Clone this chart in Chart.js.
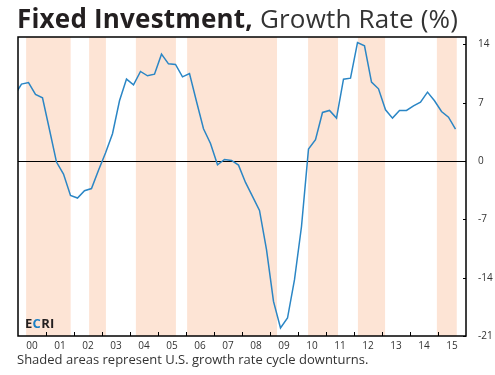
<!DOCTYPE html>
<html><head><meta charset="utf-8">
<script src="https://cdn.jsdelivr.net/npm/chart.js@4.4.0/dist/chart.umd.min.js"></script>
<style>
html,body{margin:0;padding:0;background:#fff;}
#wrap{position:relative;width:495px;height:375px;overflow:hidden;}
canvas{position:absolute;left:0;top:0;}
#title{position:absolute;left:17px;top:2px;font-family:"Open Sans";font-size:26px;letter-spacing:0.2px;line-height:32px;color:#231f20;white-space:nowrap;}
#title b{font-weight:700;}
#title span{font-weight:400;color:#333;}
#note{position:absolute;left:17px;top:351px;font-family:"Open Sans";font-size:13px;line-height:16px;color:#333;white-space:nowrap;}
#logo{position:absolute;left:25px;top:315px;font-family:"Open Sans";font-weight:700;font-size:13px;letter-spacing:0.3px;line-height:17px;color:#231f20;}
</style></head>
<body><div id="wrap"><canvas id="c" width="495" height="375"></canvas>
<div id="title"><b>Fixed Investment,</b> <span>Growth Rate (%)</span></div>
<div id="logo">E<span style="color:#1b7fc4">C</span>RI</div>
<div id="note">Shaded areas represent U.S. growth rate cycle downturns.</div></div>
<script>
const quarters = ["1999Q4",
 "2000Q1","2000Q2","2000Q3","2000Q4","2001Q1","2001Q2","2001Q3","2001Q4",
 "2002Q1","2002Q2","2002Q3","2002Q4","2003Q1","2003Q2","2003Q3","2003Q4",
 "2004Q1","2004Q2","2004Q3","2004Q4","2005Q1","2005Q2","2005Q3","2005Q4",
 "2006Q1","2006Q2","2006Q3","2006Q4","2007Q1","2007Q2","2007Q3","2007Q4",
 "2008Q1","2008Q2","2008Q3","2008Q4","2009Q1","2009Q2","2009Q3","2009Q4",
 "2010Q1","2010Q2","2010Q3","2010Q4","2011Q1","2011Q2","2011Q3","2011Q4",
 "2012Q1","2012Q2","2012Q3","2012Q4","2013Q1","2013Q2","2013Q3","2013Q4",
 "2014Q1","2014Q2","2014Q3","2014Q4","2015Q1","2015Q2","2015Q3"];
const growth = [7.9,
 9.24,9.43,8.0,7.6, 3.76,-0.12,-1.56,-4.13,
 -4.44,-3.56,-3.3,-1.1, 0.96,3.28,7.24,9.84,
 9.16,10.76,10.24,10.44, 12.84,11.68,11.6,10.12,
 10.52,7.16,3.88,2.12, -0.44,0.2,0.08,-0.48,
 -2.56,-4.24,-5.93,-10.64, -16.85,-20.04,-18.84,-14.24,
 -7.85,1.44,2.56,5.84, 6.08,5.16,9.84,9.96,
 14.24,13.84,9.48,8.68, 6.16,5.16,6.08,6.08,
 6.64,7.08,8.28,7.24, 5.96,5.28,3.84];
const bandStart = [2000.29, 2002.54, 2004.21, 2006.04, 2010.36, 2012.14, 2014.96];
const bandEnd   = [2001.88, 2003.14, 2005.64, 2009.25, 2011.43, 2013.11, 2015.67];
const years = [2000,2001,2002,2003,2004,2005,2006,2007,2008,2009,2010,2011,2012,2013,2014,2015,2016];
const xLabels = ["00","01","02","03","04","05","06","07","08","09","10","11","12","13","14","15"];
const yTicks = [-21,-14,-7,0,7,14];

const LINE = '#2b86c5', BAND = '#fde4d5';
function qToX(q){ const y=+q.slice(0,4), n=+q.slice(5); return y + (n-0.5)/4; }

const deco = {
  id:'deco',
  beforeDatasetsDraw(chart){
    const {ctx, chartArea:a, scales:{x,y}} = chart;
    ctx.save();
    ctx.fillStyle = BAND;
    bandStart.forEach((s,i)=>{
      const x0 = x.getPixelForValue(s), x1 = x.getPixelForValue(bandEnd[i]);
      ctx.fillRect(x0, a.top, x1-x0, a.bottom-a.top);
    });
    const y0 = Math.round(y.getPixelForValue(0))+0.5;
    ctx.strokeStyle='#000'; ctx.lineWidth=1;
    ctx.beginPath(); ctx.moveTo(a.left,y0); ctx.lineTo(a.right,y0); ctx.stroke();
    ctx.restore();
  },
  afterDatasetsDraw(chart){
    const {ctx, chartArea:a, scales:{x,y}} = chart;
    ctx.save();
    ctx.strokeStyle='#000'; ctx.lineWidth=1;
    ctx.beginPath();
    years.slice(1,-1).forEach(yr=>{
      const px = Math.round(x.getPixelForValue(yr))+0.5;
      ctx.moveTo(px,a.bottom); ctx.lineTo(px,a.bottom-4);
    });
    yTicks.forEach(v=>{
      const py = Math.round(y.getPixelForValue(v))+0.5;
      ctx.moveTo(a.right,py); ctx.lineTo(a.right-3,py);
    });
    ctx.stroke();
    ctx.lineWidth=1.5;
    ctx.strokeRect(a.left, a.top, a.right-a.left, a.bottom-a.top);
    ctx.restore();
  }
};

new Chart(document.getElementById('c'), {
  type:'line',
  data:{ datasets:[{
    data: quarters.map((q,i)=>({x:qToX(q), y:growth[i]})),
    borderColor: LINE, borderWidth:1.5, pointRadius:0, tension:0, fill:false
  }]},
  options:{
    responsive:false, animation:false,
    layout:{padding:{left:18, top:37, right:0, bottom:0}},
    plugins:{legend:{display:false}, tooltip:{enabled:false}, title:{display:false}},
    scales:{
      x:{type:'linear', position:'bottom', min:years[0], max:years[years.length-1],
        grid:{display:false}, border:{display:false},
        afterBuildTicks(s){ s.ticks = xLabels.map((l,i)=>({value:years[i]+0.5})); },
        ticks:{autoSkip:false, maxRotation:0, padding:-4, color:'#333',
          font:{family:'Open Sans', size:10},
          callback:(v,i)=>xLabels[i]},
        afterFit(s){ s.height = 39; }
      },
      y:{position:'right', min:-21, max:14.9,
        grid:{display:false}, border:{display:false},
        afterBuildTicks(s){ s.ticks = yTicks.map(v=>({value:v})); },
        ticks:{padding:4, color:'#333', font:{family:'Open Sans', size:10}},
        afterFit(s){ s.width = 29; }
      }
    }
  },
  plugins:[deco]
});
</script>
</body></html>
